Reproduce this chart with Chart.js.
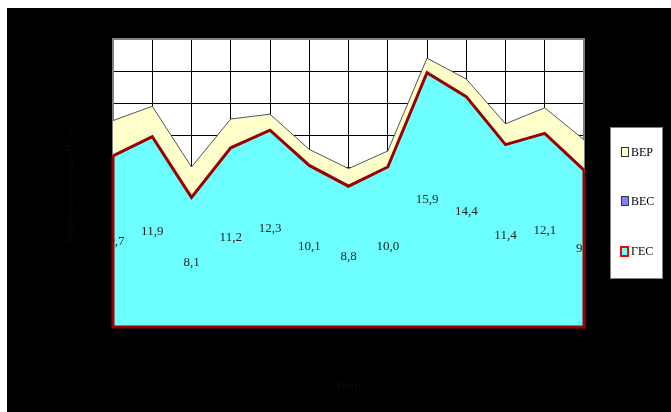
<!DOCTYPE html>
<html>
<head>
<meta charset="utf-8">
<script src="https://cdn.jsdelivr.net/npm/chart.js@4.4.1/dist/chart.umd.min.js"></script>
<style>
  html, body { margin: 0; padding: 0; background: #fff; }
  #wrap { width: 671px; height: 412px; }
</style>
</head>
<body>
<div id="wrap"><canvas id="energy-chart" width="671" height="412"></canvas></div>
<script>
// роки (підписи осі X на чорному тлі не видно)
const years = ['1995', '1996', '1997', '1998', '1999', '2000', '2001', '2002', '2003', '2004', '2005', '2006', '2007'];
const gesValues = [10.7, 11.9, 8.1, 11.2, 12.3, 10.1, 8.8, 10.0, 15.9, 14.4, 11.4, 12.1, 9.8];
const vesValues = [0, 0, 0, 0, 0, 0, 0, 0, 0, 0, 0, 0, 0];
const verValues = [2.2, 1.9, 1.9, 1.8, 1.0, 1.0, 1.1, 1.0, 0.9, 1.1, 1.3, 1.6, 1.9];
const yTicksMax = 18;
const yTicksStep = 2;

const PLOT = { left: 113, right: 584, top: 39, bottom: 327 };

const backgroundPlugin = {
    id: 'background',
    beforeDraw(chart) {
        const ctx = chart.ctx;
        const a = chart.chartArea;
        ctx.save();
        ctx.fillStyle = '#000';
        ctx.fillRect(7, 8, chart.width - 7, chart.height - 8);
        ctx.fillStyle = '#fff';
        ctx.fillRect(a.left, a.top, a.right - a.left, a.bottom - a.top);
        ctx.restore();
    },
    beforeDatasetsDraw(chart) {
        const ctx = chart.ctx;
        const a = chart.chartArea;
        ctx.save();
        ctx.strokeStyle = '#808080';
        ctx.lineWidth = 2;
        ctx.strokeRect(a.left, a.top, a.right - a.left, a.bottom - a.top);
        ctx.restore();
    }
};

// обведення області ГЕС по краях і підписи значень
const gesOutlinePlugin = {
    id: 'gesOutline',
    afterDatasetsDraw(chart) {
        const ctx = chart.ctx;
        const a = chart.chartArea;
        const meta = chart.getDatasetMeta(0);
        const pts = meta.data;
        const yScale = chart.scales.y;
        ctx.save();
        ctx.strokeStyle = '#990000';
        ctx.lineWidth = 3;
        ctx.beginPath();
        ctx.moveTo(pts[0].x, pts[0].y);
        ctx.lineTo(a.left, a.bottom);
        ctx.lineTo(a.right, a.bottom);
        ctx.lineTo(pts[pts.length - 1].x, pts[pts.length - 1].y);
        ctx.stroke();

        ctx.beginPath();
        ctx.rect(a.left, a.top, a.right - a.left, a.bottom - a.top);
        ctx.clip();
        ctx.fillStyle = '#1e1e1e';
        ctx.font = '13px "Liberation Serif", "Times New Roman", serif';
        ctx.textAlign = 'center';
        ctx.textBaseline = 'middle';
        gesValues.forEach((v, i) => {
            const y = yScale.getPixelForValue(v / 2);
            ctx.fillText(v.toFixed(1).replace('.', ','), pts[i].x, y);
        });
        ctx.restore();
    }
};

const legendPlugin = {
    id: 'boxLegend',
    afterDraw(chart) {
        const ctx = chart.ctx;
        ctx.save();
        ctx.fillStyle = '#fff';
        ctx.fillRect(610, 127, 53, 152);
        ctx.strokeStyle = '#808080';
        ctx.lineWidth = 1;
        ctx.strokeRect(610.5, 127.5, 52, 151);
        const rows = [2, 1, 0];
        const rowY = [152, 201, 251];
        ctx.font = '12px "Liberation Serif", "Times New Roman", serif';
        ctx.textBaseline = 'middle';
        rows.forEach((di, k) => {
            const ds = chart.data.datasets[di];
            const y = rowY[k];
            if (di === 0) {
                ctx.fillStyle = '#ff0000';
                ctx.fillRect(620, y - 5, 9, 11);
                ctx.fillStyle = ds.backgroundColor;
                ctx.fillRect(622, y - 3, 5, 7);
            } else {
                ctx.fillStyle = ds.backgroundColor;
                ctx.fillRect(621, y - 4, 7, 9);
                ctx.strokeStyle = '#333';
                ctx.strokeRect(621.5, y - 4.5, 7, 9);
            }
            ctx.fillStyle = '#000';
            ctx.fillText(ds.label, 631, y + 1);
        });
        ctx.restore();
    }
};

const ctx = document.getElementById('energy-chart').getContext('2d');
const energyChart = new Chart(ctx, {
    type: 'line',
    data: {
        labels: years,
        datasets: [{
            label: 'ГЕС',
            data: gesValues,
            backgroundColor: '#6dffff',
            borderColor: '#990000',
            borderWidth: 3,
            fill: 'origin',
            pointRadius: 0,
            tension: 0
        }, {
            label: 'ВЕС',
            data: vesValues,
            backgroundColor: '#8080ff',
            borderColor: '#8080ff',
            borderWidth: 0,
            fill: '-1',
            pointRadius: 0,
            tension: 0
        }, {
            label: 'ВЕР',
            data: verValues,
            backgroundColor: '#ffffcc',
            borderColor: '#555555',
            borderWidth: 1,
            fill: '-1',
            pointRadius: 0,
            tension: 0
        }]
    },
    options: {
        responsive: false,
        animation: false,
        devicePixelRatio: 1,
        layout: {
            padding: { left: 0, top: PLOT.top, right: 671 - PLOT.right, bottom: 0 }
        },
        plugins: {
            legend: { display: false },
            tooltip: { enabled: false }
        },
        scales: {
            x: {
                offset: false,
                grid: { color: '#000', lineWidth: 1, drawTicks: false },
                border: { display: false },
                ticks: { display: false },
                title: {
                    display: true,
                    text: 'Роки',
                    color: '#0a0a0a',
                    font: { family: 'Liberation Serif', size: 12 },
                    padding: { top: 0, bottom: 18 }
                },
                afterFit(scale) { scale.height = 412 - PLOT.bottom; }
            },
            y: {
                stacked: true,
                min: 0,
                max: yTicksMax,
                grid: { color: '#000', lineWidth: 1, drawTicks: false },
                border: { display: false },
                ticks: { display: false, stepSize: yTicksStep },
                title: {
                    display: true,
                    text: 'Виробництво, млрд кВт·год',
                    color: '#0a0a0a',
                    font: { family: 'Liberation Serif', size: 10 },
                    padding: { top: 64, bottom: 0 }
                },
                afterFit(scale) { scale.width = PLOT.left; }
            }
        }
    },
    plugins: [backgroundPlugin, gesOutlinePlugin, legendPlugin]
});
</script>
</body>
</html>
